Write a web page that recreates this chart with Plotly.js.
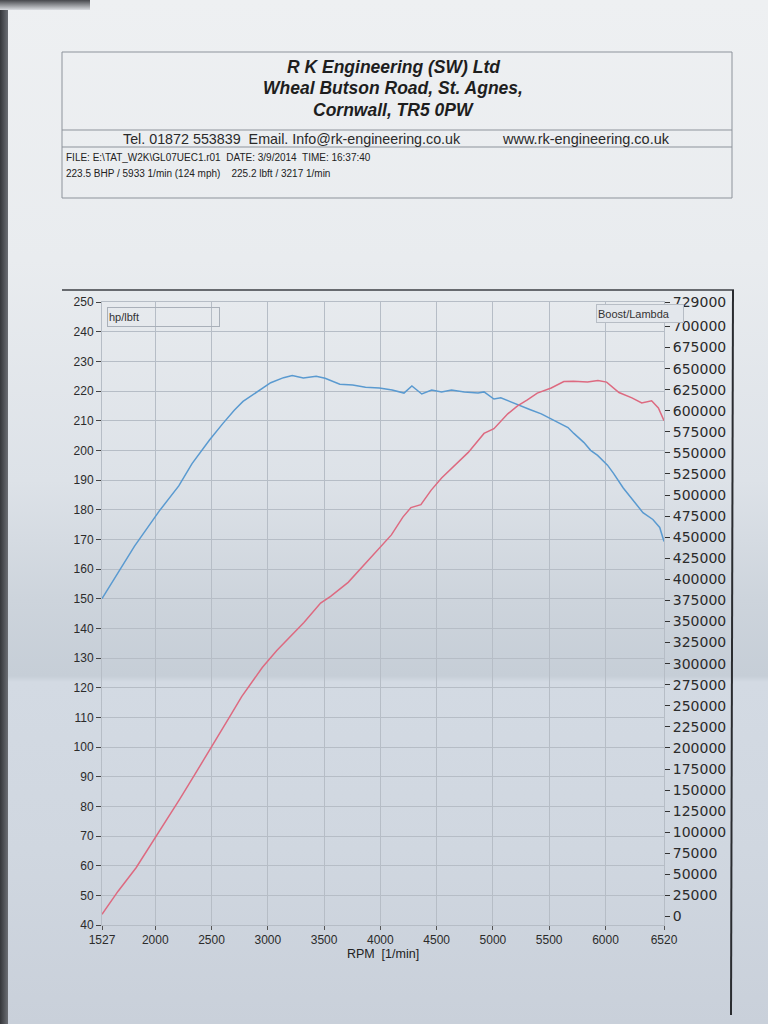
<!DOCTYPE html>
<html>
<head>
<meta charset="utf-8">
<script src="https://cdn.plot.ly/plotly-3.0.1.min.js"></script>
<style>
html,body{margin:0;padding:0;width:768px;height:1024px;overflow:hidden;}
body{background:linear-gradient(to bottom,#eef0f2 0px,#e9ecef 260px,#dde2e8 480px,#cdd4dc 600px,#c6ced7 676px,#d3dae3 682px,#d0d7e0 850px,#c9d0da 1024px);position:relative;}
#edge{position:absolute;left:0;top:0;width:8px;height:1024px;background:linear-gradient(to right,#34363a,#6b6e74);}
#topedge{position:absolute;left:0;top:0;width:90px;height:10px;background:linear-gradient(to bottom,#45474b,#d9dce0);}
#chart{position:absolute;left:0;top:0;width:768px;height:1024px;}
</style>
</head>
<body>
<div id="edge"></div>
<div id="topedge"></div>
<div id="chart"></div>
<script>
// ---- data read from the dyno sheet ----
const powerRpm = [1527,1670,1830,2010,2125,2219,2348,2478,2580,2674,2768,2862,2951,3080,3201,3321,3469,3558,3714,3897,3990,4098,4200,4272,4360,4450,4544,4660,4781,4921,5009,5132,5219,5306,5394,5518,5630,5715,5840,5933,6010,6120,6235,6322,6410,6470,6520];
const powerHp  = [43.6,51.4,59.3,70,76.6,82.5,90.5,98.5,105,111,117,122,126.8,132.5,137.4,142,148.5,150.8,155.5,163.3,167,171.5,177.5,180.7,181.7,186.5,190.7,195,199.3,205.7,207.3,212.3,215,217,219.3,221,223.2,223.3,223.0,223.5,223.0,219.5,217.7,216,216.7,214.3,210];

const torqueRpm = [1527,1816,2035,2160,2209,2327,2482,2600,2702,2780,2860,2939,3026,3140,3217,3316,3430,3509,3640,3754,3868,3991,4105,4210,4280,4368,4456,4544,4632,4746,4868,4921,5009,5070,5219,5333,5430,5544,5667,5719,5807,5868,5930,6018,6070,6158,6246,6333,6421,6482,6520];
const torqueLbft = [150,167.7,179.5,185.5,188,195.5,203.5,209,213.5,216.5,218.5,220.5,222.8,224.5,225.2,224.4,225,224.3,222.3,222,221.3,221,220.3,219.3,221.7,219,220.3,219.7,220.3,219.7,219.3,219.7,217.3,217.7,215.3,213.7,212.3,210,207.7,205.7,202.7,200,198.3,195,192.3,187.3,183.3,179,176.7,174,169.3];

const rpmTicks = [1527,2000,2500,3000,3500,4000,4500,5000,5500,6000,6520];
const hpTicks = [40,50,60,70,80,90,100,110,120,130,140,150,160,170,180,190,200,210,220,230,240,250];
const boostTicks = [0,25000,50000,75000,100000,125000,150000,175000,200000,225000,250000,275000,300000,325000,350000,375000,400000,425000,450000,475000,500000,525000,550000,575000,600000,625000,650000,675000,700000,729000];

const headerLines = ['R K Engineering (SW) Ltd','Wheal Butson Road, St. Agnes,','Cornwall, TR5 0PW'];
const contactLeft = 'Tel. 01872 553839  Email. Info@rk-engineering.co.uk';
const contactRight = 'www.rk-engineering.co.uk';
const fileLine = 'FILE: E:\\TAT_W2K\\GL07UEC1.r01  DATE: 3/9/2014  TIME: 16:37:40';
const peakLine = '223.5 BHP / 5933 1/min (124 mph)    225.2 lbft / 3217 1/min';

// ---- page geometry (pixel -> paper helpers for decorations) ----
const L = 102, R = 664, T = 302, B = 925;
const fx = p => (p - L) / (R - L);
const fy = p => (B - p) / (B - T);

const font = 'Liberation Sans, Arial, sans-serif';

const traces = [
  {x: torqueRpm, y: torqueLbft, type: 'scatter', mode: 'lines', name: 'lbft',
   line: {color: '#5a9ad0', width: 1.5}, hoverinfo: 'skip'},
  {x: powerRpm, y: powerHp, type: 'scatter', mode: 'lines', name: 'hp',
   line: {color: '#dd6a80', width: 1.5}, hoverinfo: 'skip'},
  {x: [], y: [], type: 'scatter', mode: 'lines', yaxis: 'y2', showlegend: false}
];

const ann = [];
headerLines.forEach((t, i) => {
  ann.push({xref: 'paper', yref: 'paper', x: fx(393), y: fy([67, 88, 110][i]),
    text: '<b><i>' + t + '</i></b>', showarrow: false, xanchor: 'center', yanchor: 'middle',
    font: {family: font, size: 17.5, color: '#1e1e1e'}});
});
ann.push({xref: 'paper', yref: 'paper', x: fx(121), y: fy(139), text: contactLeft, showarrow: false,
  xanchor: 'left', yanchor: 'middle', font: {family: font, size: 14.3, color: '#2a2a2a'}});
ann.push({xref: 'paper', yref: 'paper', x: fx(500), y: fy(139), text: contactRight, showarrow: false,
  xanchor: 'left', yanchor: 'middle', font: {family: font, size: 14.5, color: '#2a2a2a'}});
ann.push({xref: 'paper', yref: 'paper', x: fx(64), y: fy(158), text: fileLine, showarrow: false,
  xanchor: 'left', yanchor: 'middle', font: {family: font, size: 10, color: '#222'}});
ann.push({xref: 'paper', yref: 'paper', x: fx(64), y: fy(173), text: peakLine, showarrow: false,
  xanchor: 'left', yanchor: 'middle', font: {family: font, size: 10, color: '#222'}});
ann.push({xref: 'paper', yref: 'paper', x: fx(107), y: fy(317), text: 'hp/lbft', showarrow: false,
  xanchor: 'left', yanchor: 'middle', align: 'left', width: 109, height: 16, borderpad: 1,
  bgcolor: 'rgba(0,0,0,0)', bordercolor: '#a9b0b9', borderwidth: 1,
  font: {family: font, size: 11, color: '#333'}});
ann.push({xref: 'paper', yref: 'paper', x: fx(596), y: fy(313), text: 'Boost/Lambda', showarrow: false,
  xanchor: 'left', yanchor: 'middle', align: 'left', width: 84, height: 15, borderpad: 1,
  bgcolor: '#e3e7ec', bordercolor: '#b7bdc5', borderwidth: 1,
  font: {family: font, size: 11, color: '#333'}});

const line = (x0, y0, x1, y1, color, w) => ({type: 'line', xref: 'paper', yref: 'paper',
  x0: fx(x0), y0: fy(y0), x1: fx(x1), y1: fy(y1), line: {color: color, width: w}, layer: 'above'});

const shapes = [
  {type: 'rect', xref: 'paper', yref: 'paper', x0: fx(62), y0: fy(52), x1: fx(732), y1: fy(198),
   line: {color: '#8d939b', width: 1}, layer: 'above'},
  line(62, 130, 732, 130, '#8d939b', 1),
  line(62, 147, 732, 147, '#8d939b', 1),
  line(62, 290, 734, 290, '#3c3f44', 1.3),
  line(733, 290, 731, 1015, '#2a2c30', 2)
];

const layout = {
  width: 768, height: 1024,
  margin: {l: L, r: 768 - R, t: T, b: 1024 - B, pad: 0},
  paper_bgcolor: 'rgba(0,0,0,0)', plot_bgcolor: 'rgba(0,0,0,0)',
  showlegend: false,
  font: {family: font, color: '#2b2b2b'},
  xaxis: {range: [1527, 6520], tickvals: rpmTicks, ticktext: rpmTicks.map(String),
    ticks: 'outside', ticklen: 4, tickcolor: '#555', tickfont: {size: 12, color: '#2b2b2b'},
    showgrid: true, gridcolor: '#b6bdc6', gridwidth: 1, zeroline: false,
    showline: true, linecolor: '#b6bdc6', mirror: true,
    title: {text: 'RPM  [1/min]', font: {size: 12.5, color: '#222'}, standoff: 1}},
  yaxis: {range: [40, 250], tickvals: hpTicks, ticks: 'outside', ticklen: 5, tickcolor: '#444',
    tickfont: {size: 12, color: '#2b2b2b'}, showgrid: true, gridcolor: '#b6bdc6', gridwidth: 1,
    zeroline: false, showline: true, linecolor: '#b6bdc6', mirror: true},
  yaxis2: {overlaying: 'y', side: 'right', range: [-10000, 729000], tickvals: boostTicks,
    ticktext: boostTicks.map(String), ticks: 'outside', ticklen: 5, tickcolor: '#333',
    tickfont: {family: 'DejaVu Sans, sans-serif', size: 14, color: '#2b2b2b'},
    showgrid: false, zeroline: false, showline: false},
  annotations: ann,
  shapes: shapes
};

Plotly.newPlot('chart', traces, layout, {displayModeBar: false, staticPlot: true});
</script>
</body>
</html>
